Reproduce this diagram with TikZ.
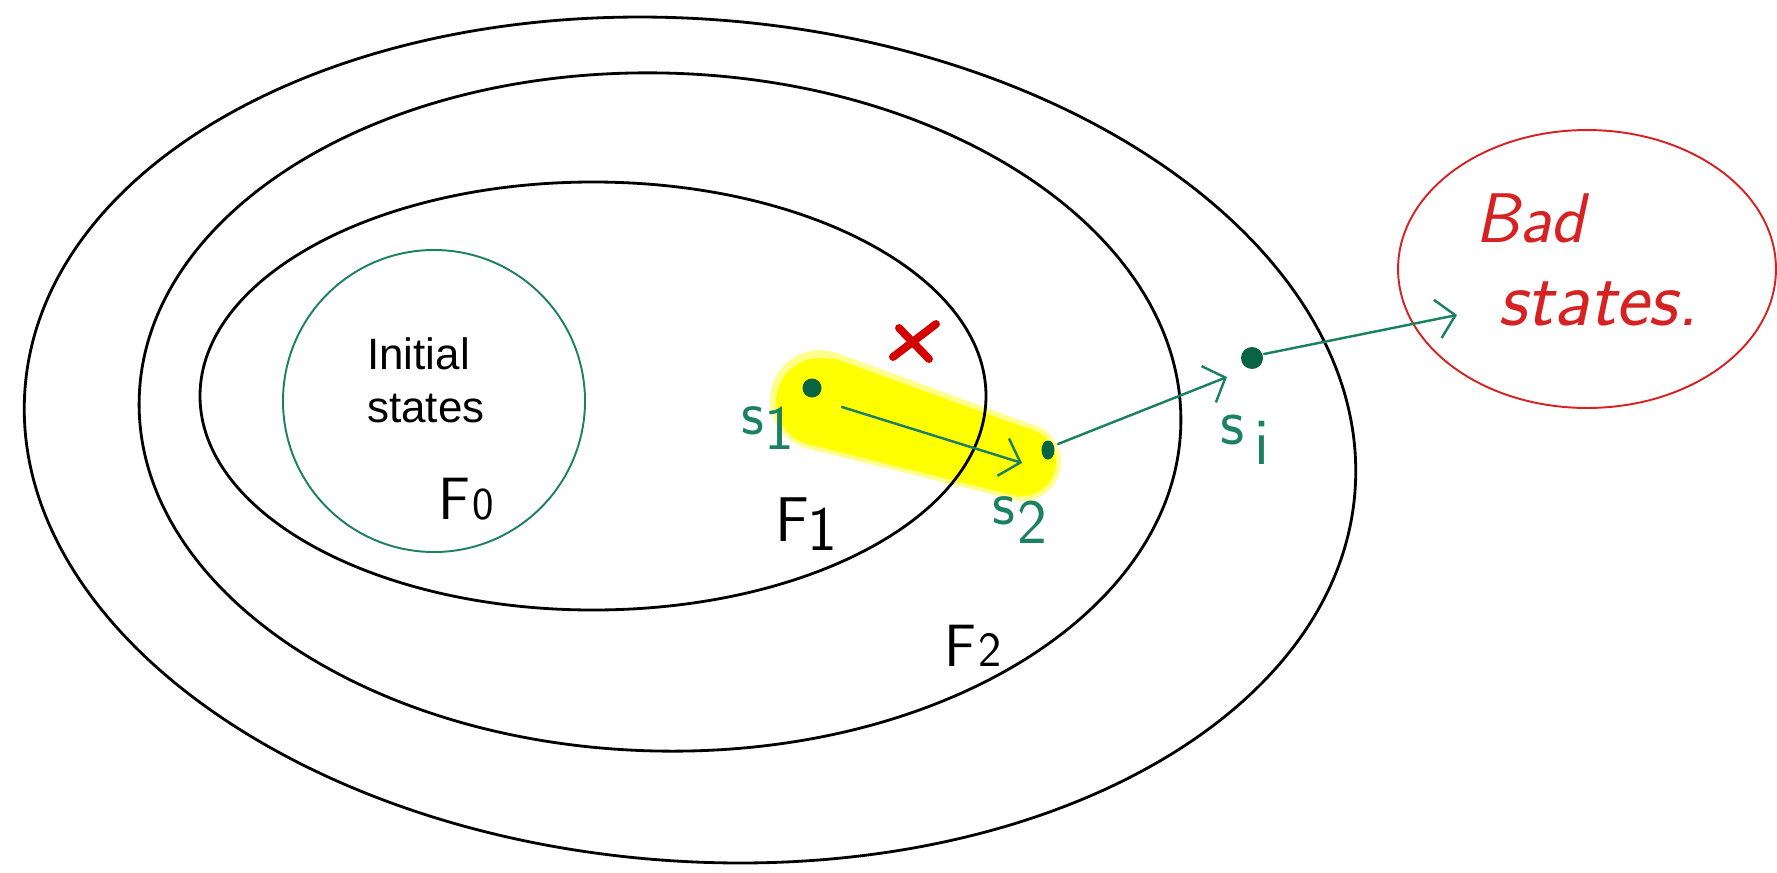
\documentclass[tikz,border=0pt]{standalone}
\usepackage{fontspec}
\newfontfamily\helv{Liberation Sans}
\usetikzlibrary{arrows.meta,shapes.geometric}
\definecolor{lgreen}{RGB}{28,128,98}
\definecolor{dgreen}{RGB}{8,100,66}
\definecolor{bred}{RGB}{214,34,34}
\definecolor{xred}{RGB}{212,0,0}
\definecolor{hyellow}{RGB}{255,255,0}
\begin{document}
\begin{tikzpicture}[x=0.02cm,y=-0.02cm,
  frontier/.style={draw=black, line width=1.6pt},
  dotnode/.style={fill=dgreen, inner sep=0pt, draw=none},
  garrow/.style={draw=lgreen, line width=1.4pt, line cap=round,
    -{Straight Barb[length=0.36cm,width=0.78cm,line width=1.4pt]}},
  hand/.style={font=\sffamily, inner sep=0pt},
  greenhand/.style={hand, text=lgreen},
  badtext/.style={hand, text=bred},
]
\useasboundingbox (0,0) rectangle (1777,872);

% yellow highlight
\fill[hyellow!45!white] (820,400) circle [radius=50];
\fill[hyellow!45!white] (1022,462) circle [radius=39];
\fill[hyellow!45!white] (834,352) -- (1033,425) -- (1011,499) -- (805,448) -- cycle;
\fill[hyellow] (820,402) circle [radius=44];
\fill[hyellow] (1022,462) circle [radius=34];
\fill[hyellow] (833,358) -- (1032,430) -- (1012,495) -- (807,444) -- cycle;

% frontiers
\draw[frontier, rotate around={-4.5:(690,440)}] (690,440) ellipse [x radius=667, y radius=421];
\draw[frontier, rotate around={-1.5:(660,412)}] (660,412) ellipse [x radius=521, y radius=339];
\draw[frontier] (593,396) ellipse [x radius=393, y radius=214];

% initial states
\draw[draw=lgreen, line width=1.1pt] (434,401) circle [radius=151];
\node[anchor=west, align=left, inner sep=0pt, font=\helv\fontsize{25}{30}\selectfont] (init) at (367,380) {Initial\\states};

% bad states
\node[ellipse, draw=bred, line width=1.1pt, minimum width=7.56cm, minimum height=5.56cm, inner sep=0pt] (bad) at (1587,269) {};
\node[badtext, font=\sffamily\itshape\fontsize{40}{48}\selectfont] (badt1) at (1530,218) {Bad};
\node[badtext, font=\sffamily\itshape\fontsize{45}{48}\selectfont] (badt2) at (1598,304) {states.};

% red cross
\draw[xred, line width=4.5pt, line cap=round] (893,357) -- (936,324);
\draw[xred, line width=4.5pt, line cap=round] (899,328) -- (929,359);

% states
\node[dotnode, circle, minimum size=0.38cm] (s1) at (812,388) {};
\node[dotnode, ellipse, minimum width=0.26cm, minimum height=0.38cm] (s2) at (1048,450) {};
\node[dotnode, circle, minimum size=0.44cm] (si) at (1252,358) {};

% transitions
\draw[garrow] ([xshift=0.6cm,yshift=-0.38cm]s1.center) -- ([xshift=-0.52cm,yshift=-0.26cm]s2.center);
\draw[garrow] ([xshift=0.2cm,yshift=0.12cm]s2.center) -- ([xshift=-0.5cm,yshift=-0.38cm]si.center);
\draw[garrow] ([xshift=0.24cm,yshift=0.08cm]si.center) -- ([xshift=-2.6cm,yshift=-0.92cm]bad.center);

% labels
\node[greenhand, font=\sffamily\fontsize{36}{40}\selectfont] (ls1) at (768,428) {s\raisebox{-0.25em}{1}};
\node[greenhand, font=\sffamily\fontsize{36}{40}\selectfont] (ls2) at (1020,520) {s\kern1pt\raisebox{-0.3em}{2}};
\node[greenhand, font=\sffamily\fontsize{38}{40}\selectfont] (lsi) at (1245,440) {s\kern6pt\raisebox{-0.3em}{i}};
\node[hand, font=\sffamily\fontsize{34}{40}\selectfont] (lf0) at (466,499) {F\kern1pt{\fontsize{26}{30}\selectfont 0}};
\node[hand, font=\sffamily\fontsize{36}{40}\selectfont] (lf1) at (806,524) {F\kern-1pt\raisebox{-0.15em}{1}};
\node[hand, font=\sffamily\fontsize{34}{40}\selectfont] (lf2) at (973,646) {F\kern1pt{\fontsize{28}{30}\selectfont 2}};
\end{tikzpicture}
\end{document}
